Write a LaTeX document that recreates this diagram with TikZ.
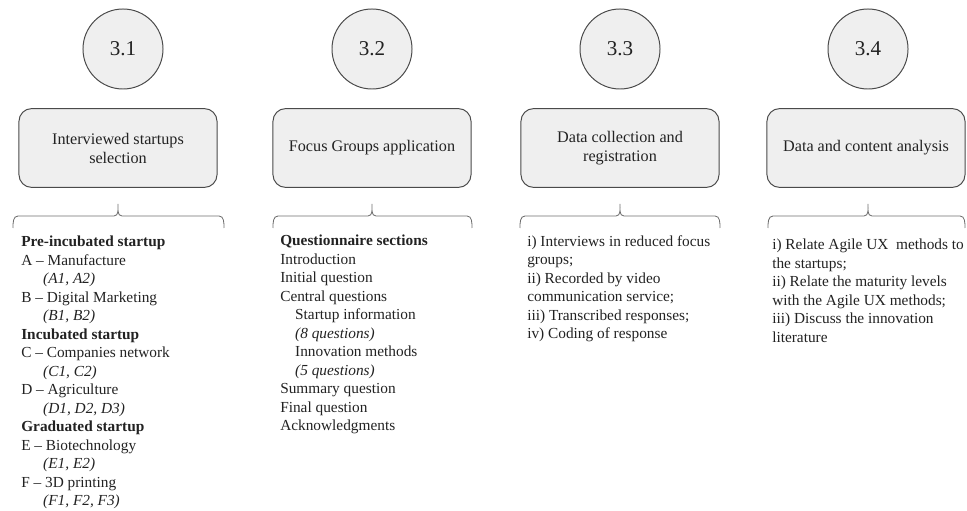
\documentclass[tikz,border=0pt]{standalone}
\usepackage{fontspec}
\setmainfont{Liberation Serif}
\usepackage{xcolor}
\usepackage{tikz}
\usetikzlibrary{calc}

\definecolor{stagefill}{HTML}{EFEFEF}
\definecolor{stageline}{HTML}{4A4A4A}
\definecolor{braceline}{HTML}{6E6E6E}
\definecolor{inktext}{HTML}{222222}

\tikzset{
  stage/.style={circle, draw=stageline, fill=stagefill, line width=0.7pt,
    minimum size=2cm, inner sep=0pt, text=inktext,
    font=\fontsize{15}{17}\selectfont},
  phase/.style={rectangle, rounded corners=9pt, draw=stageline, fill=stagefill,
    line width=0.7pt, minimum width=4.95cm, minimum height=1.97cm,
    align=center, text=inktext, font=\fontsize{11.5}{13.5}\selectfont},
  items/.style={anchor=north west, inner sep=0pt, align=left, text=inktext,
    font=\fontsize{10.9}{13.15}\selectfont},
  bracket/.style={draw=braceline, line width=0.6pt},
}

\begin{document}
\begin{tikzpicture}[x=0.025cm, y=-0.025cm]
\useasboundingbox (0,0) rectangle (967,511);

% numbered stages
\node[stage] (c1) at (123,49) {3.1};
\node[stage] (c2) at (372,49) {3.2};
\node[stage] (c3) at (620,49) {3.3};
\node[stage] (c4) at (868,49) {3.4};

% phase boxes
\node[phase] (b1) at (118,148) {Interviewed startups\\selection};
\node[phase] (b2) at (372,148) {Focus Groups application};
\node[phase] (b3) at (620,148) {Data collection and\\registration};
\node[phase] (b4) at (866,148) {Data and content analysis};

% braces under the boxes
\coordinate (l1) at (13,228);  \coordinate (m1) at (118,204); \coordinate (r1) at (224,228);
\coordinate (l2) at (273,228); \coordinate (m2) at (372,204); \coordinate (r2) at (472,228);
\coordinate (l3) at (520,228); \coordinate (m3) at (620,204); \coordinate (r3) at (720,228);
\coordinate (l4) at (768,228); \coordinate (m4) at (868,204); \coordinate (r4) at (965,228);
\foreach \i in {1,...,4}
  \draw[bracket] (l\i) to[out=90,in=180] ($(l\i)+(5,-12)$)
    -- ($(m\i)+(-4,12)$) to[out=0,in=-90] (m\i)
    to[out=-90,in=180] ($(m\i)+(4,12)$)
    -- ($(r\i)+(-5,-12)$) to[out=0,in=90] (r\i);

% details
\node[items] (t1) at (21,236) {\textbf{Pre-incubated startup}\\
  A -- Manufacture\\
  \hspace*{15.6pt}\textit{(A1, A2)}\\
  B -- Digital Marketing\\
  \hspace*{15.6pt}\textit{(B1, B2)}\\
  \textbf{Incubated startup}\\
  C -- Companies network\\
  \hspace*{15.6pt}\textit{(C1, C2)}\\
  D -- Agriculture\\
  \hspace*{15.6pt}\textit{(D1, D2, D3)}\\
  \textbf{Graduated startup}\\
  E -- Biotechnology\\
  \hspace*{15.6pt}\textit{(E1, E2)}\\
  F -- 3D printing\\
  \hspace*{15.6pt}\textit{(F1, F2, F3)}};
\node[items] (t2) at (280,235) {\textbf{Questionnaire sections}\\
  Introduction\\
  Initial question\\
  Central questions\\
  \hspace*{10.6pt}Startup information\\
  \hspace*{10.6pt}\textit{(8 questions)}\\
  \hspace*{10.6pt}Innovation methods\\
  \hspace*{10.6pt}\textit{(5 questions)}\\
  Summary question\\
  Final question\\
  Acknowledgments};
\node[items] (t3) at (527,235) {i) Interviews in reduced focus\\
  groups;\\
  ii) Recorded by video\\
  communication service;\\
  iii) Transcribed responses;\\
  iv) Coding of response};
\node[items] (t4) at (772,239) {i) Relate Agile UX\ \ methods to\\
  the startups;\\
  ii) Relate the maturity levels\\
  with the Agile UX methods;\\
  iii) Discuss the innovation\\
  literature};
\end{tikzpicture}
\end{document}
